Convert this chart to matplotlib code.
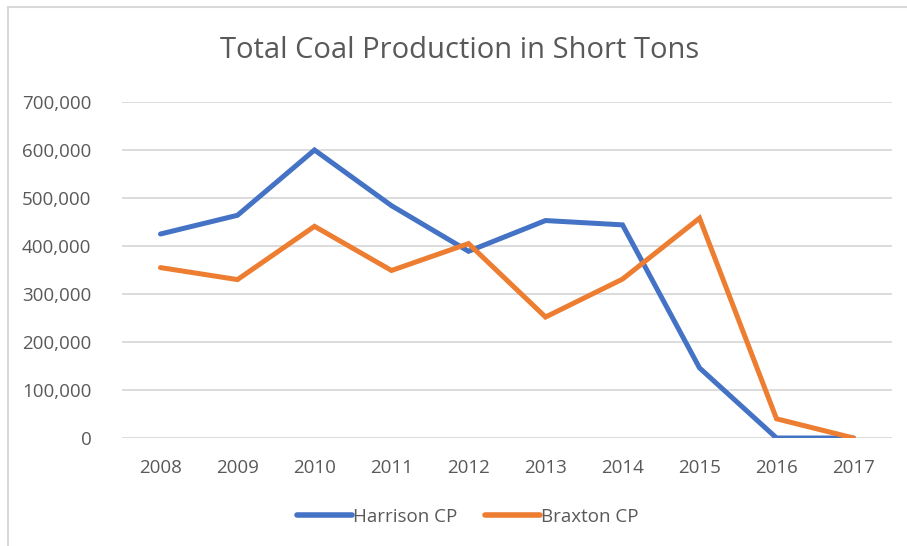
import matplotlib
matplotlib.use("Agg")
import matplotlib.pyplot as plt
from matplotlib.ticker import FuncFormatter, MultipleLocator
from matplotlib.patches import Rectangle

years = ["2008", "2009", "2010", "2011", "2012", "2013", "2014", "2015", "2016", "2017"]
harrison = [425000, 464000, 600000, 484000, 389000, 453000, 444000, 146000, 0, 0]
braxton = [355000, 330000, 441000, 349000, 405000, 252000, 331000, 458000, 40000, 0]

plt.rcParams['font.family'] = ['Open Sans', 'DejaVu Sans']
text_color = '#595959'

fig = plt.figure(figsize=(9.07, 5.46), dpi=100)
ax = fig.add_axes([0.1345, 0.1978, 0.849, 0.6154])

x = list(range(len(years)))
ax.plot(x, harrison, color='#4472C4', lw=3.6, label='Harrison CP', solid_joinstyle='miter', solid_capstyle='round')
ax.plot(x, braxton, color='#ED7D31', lw=3.6, label='Braxton CP', solid_joinstyle='miter', solid_capstyle='round')

ax.set_xlim(-0.5, len(years) - 0.5)
ax.set_ylim(0, 700000)
ax.set_xticks(x)
ax.set_xticklabels(years)
ax.yaxis.set_major_locator(MultipleLocator(100000))
ax.yaxis.set_major_formatter(FuncFormatter(lambda v, p: f"{int(v):,}"))
ax.grid(axis='y', color='#D9D9D9', lw=1.3)
ax.set_axisbelow(True)
for s in ax.spines.values():
    s.set_visible(False)
ax.tick_params(axis='both', length=0, colors=text_color, labelsize=13.5)
ax.tick_params(axis='x', pad=15)
ax.tick_params(axis='y', pad=22)

fig.text(460 / 907, 1 - 51 / 546, "Total Coal Production in Short Tons",
         ha='center', va='center', fontsize=21, color=text_color)

leg = fig.legend(loc='center', bbox_to_anchor=(468 / 907, 1 - 517 / 546), ncol=2, frameon=False,
                 fontsize=13.5, handlelength=2.9, handletextpad=0.08, columnspacing=1.5)
for t in leg.get_texts():
    t.set_color(text_color)
for h in leg.legend_handles:
    h.set_linewidth(4.0)

fig.patches.append(Rectangle((8 / 907, -0.2), 1.2, 1.2 - 7 / 546, transform=fig.transFigure,
                             fill=False, edgecolor='#D9D9D9', lw=1.5))

fig.savefig("out.png", dpi=100, facecolor='white')
